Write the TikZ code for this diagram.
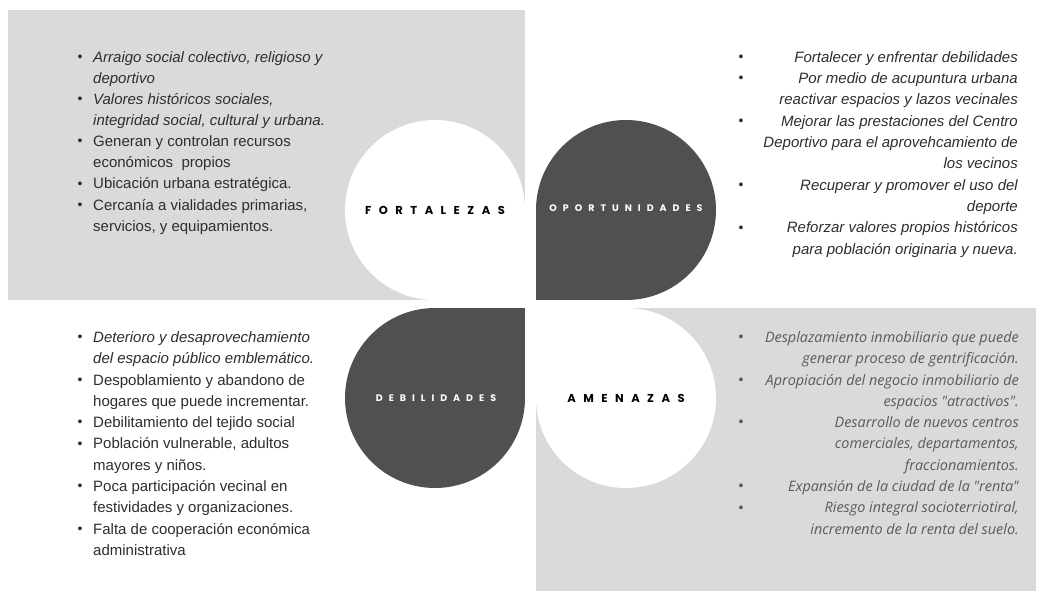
\documentclass[tikz,border=0pt]{standalone}
\usepackage{fontspec}
\setmainfont{Liberation Sans}
\newfontfamily\brfont{Open Sans}
\newfontfamily\labfont{Poppins}
\definecolor{bggray}{HTML}{DADADA}
\definecolor{dark}{HTML}{505050}
\definecolor{txt}{HTML}{2E2E2E}
\definecolor{txtlight}{HTML}{5A5A5A}
\newdimen\lsp
\def\gobx#1{}
\def\firstx#1{#1}
\def\spA#1#2{#1\ifx\relax#2\expandafter\gobx\else\kern\lsp\expandafter\firstx\fi{\spA#2}}
\def\spaced#1{\spA#1\relax}
\begin{document}
\begin{tikzpicture}[x=1pt,y=-1pt,
  ln/.style={anchor=base west,inner sep=0pt,font=\fontsize{15}{17}\selectfont,text=txt},
  lnr/.style={anchor=base east,inner sep=0pt,font=\fontsize{15}{17}\selectfont\itshape,text=txt},
  lnb/.style={anchor=base east,inner sep=0pt,font=\brfont\fontsize{14.4}{17}\selectfont\itshape,text=txtlight},
  bul/.style={anchor=base,inner sep=0pt,font=\fontsize{14}{16}\selectfont,text=txt},
  bigl/.style={inner sep=0pt,font=\labfont\bfseries\fontsize{11.5}{13}\selectfont,text=black},
  smalll/.style={inner sep=0pt,font=\labfont\bfseries\fontsize{9.5}{11}\selectfont,text=white}]
\useasboundingbox (0,0) rectangle (1039,591);
\fill[white] (0,0) rectangle (1039,591);
% quadrant backgrounds
\fill[bggray] (8,10) rectangle (525,300);
\fill[bggray] (536,308) rectangle (1036,591);
% leaf shapes
\fill[white] (435,210) circle[radius=90pt];
\fill[white] (435,210) rectangle (525,300);
\fill[dark] (626,210) circle[radius=90pt];
\fill[dark] (536,210) rectangle (626,300);
\fill[dark] (435,398) circle[radius=90pt];
\fill[dark] (435,308) rectangle (525,398);
\fill[white] (626,398) circle[radius=90pt];
\fill[white] (536,308) rectangle (626,398);
% labels
\node[bigl] (fort) at (435,210) {\lsp=7.5pt\spaced{FORTALEZAS}};
\node[smalll] (opor) at (626,208) {\lsp=6pt\spaced{OPORTUNIDADES}};
\node[smalll] (debi) at (436,398) {\lsp=6pt\spaced{DEBILIDADES}};
\node[bigl] (amen) at (626,398) {\lsp=7.5pt\spaced{AMENAZAS}};
% Fortalezas list
\foreach \t [count=\i] in {
  {\itshape Arraigo social colectivo, religioso y},
  {\itshape deportivo},
  {\itshape Valores históricos sociales,},
  {\itshape integridad social, cultural y urbana.},
  {Generan y controlan recursos},
  {económicos\ \ propios},
  {Ubicación urbana estratégica.},
  {Cercanía a vialidades primarias,},
  {servicios, y equipamientos.}}
  \node[ln] (fl\i) at (93,{62.4+21.1*(\i-1)}) {\t};
\foreach \i in {1,3,5,7,8}
  \node[bul] (fb\i) at (80,{61.6+21.1*(\i-1)}) {•};
% Oportunidades list
\foreach \t [count=\i] in {
  {Fortalecer y enfrentar debilidades},
  {Por medio de acupuntura urbana},
  {reactivar espacios y lazos vecinales},
  {Mejorar las prestaciones del Centro},
  {Deportivo para el aprovehcamiento de},
  {los vecinos},
  {Recuperar y promover el uso del},
  {deporte},
  {Reforzar valores propios históricos},
  {para población originaria y nueva.\hspace{5pt}}}
  \node[lnr] (ol\i) at (1018,{62.4+21.3*(\i-1)}) {\t};
\foreach \i in {1,2,4,7,9}
  \node[bul] (ob\i) at (741,{61.6+21.3*(\i-1)}) {•};
% Debilidades list
\foreach \t [count=\i] in {
  {\itshape Deterioro y desaprovechamiento},
  {\itshape del espacio público emblemático.},
  {Despoblamiento y abandono de},
  {hogares que puede incrementar.},
  {Debilitamiento del tejido social},
  {Población vulnerable, adultos},
  {mayores y niños.},
  {Poca participación vecinal en},
  {festividades y organizaciones.},
  {Falta de cooperación económica},
  {administrativa}}
  \node[ln] (dl\i) at (93,{342.4+21.3*(\i-1)}) {\t};
\foreach \i in {1,3,5,6,8,10}
  \node[bul] (db\i) at (80,{341.6+21.3*(\i-1)}) {•};
% Amenazas list
\foreach \t [count=\i] in {
  {Desplazamiento inmobiliario que puede},
  {generar proceso de gentrificación.},
  {Apropiación del negocio inmobiliario de},
  {espacios "atractivos".},
  {Desarrollo de nuevos centros},
  {comerciales, departamentos,},
  {fraccionamientos.},
  {Expansión de la ciudad de la "renta"},
  {Riesgo integral socioterriotiral,},
  {incremento de la renta del suelo.}}
  \node[lnb] (al\i) at (1019,{342.4+21.3*(\i-1)}) {\t};
\foreach \i in {1,3,5,8,9}
  \node[bul,text=txtlight] (ab\i) at (741,{341.6+21.3*(\i-1)}) {•};
\end{tikzpicture}
\end{document}
